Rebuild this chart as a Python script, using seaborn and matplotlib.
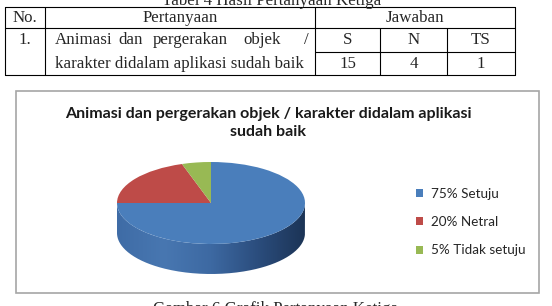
import numpy as np
import matplotlib
matplotlib.use("Agg")
import matplotlib.pyplot as plt
import seaborn as sns
from matplotlib.patches import Rectangle, PathPatch
from matplotlib.path import Path
from matplotlib.colors import LinearSegmentedColormap

# ---- data ----
categories = ["Setuju", "Netral", "Tidak setuju"]
values = [75, 20, 5]
legend_labels = ["75% Setuju", "20% Netral", "5% Tidak setuju"]
table_head = ["No.", "Pertanyaan", "Jawaban"]
answer_cols = ["S", "N", "TS"]
answer_vals = [15, 4, 1]
question = "Animasi dan pergerakan objek / karakter didalam aplikasi sudah baik"
chart_title = "Animasi dan pergerakan objek / karakter didalam aplikasi\nsudah baik"
table_caption = "Tabel 4 Hasil Pertanyaan Ketiga"
figure_caption = "Gambar 6 Grafik Pertanyaan Ketiga"

sns.set_theme(style="white")
plt.rcParams["font.family"] = ["Liberation Serif", "DejaVu Serif"]
colors = ["#4a7ebb", "#be4b48", "#98b954"]

W, H = 552, 306
fig = plt.figure(figsize=(W / 100, H / 100), dpi=100)
fig.patch.set_facecolor("white")


def fx(x):
    return x / W


def fy(y):
    return 1 - y / H


serif = ["Liberation Serif", "DejaVu Serif"]
sans = ["Lato", "DejaVu Sans"]

# ---- table ----
fs_t = 12.2
fig.text(fx(272), fy(1), table_caption, ha="center", va="center", fontsize=fs_t, family=serif)
lw = 0.8
tl, tr = 5, 515
c_no, c_q, c_s, c_n = 45, 315, 380, 447
r0, r1, r2, r3 = 7, 28, 52, 75
line = dict(color="black", lw=lw, transform=fig.transFigure)


def hline(x0, x1, y):
    fig.add_artist(plt.Line2D([fx(x0), fx(x1)], [fy(y), fy(y)], **line))


def vline(x, y0, y1):
    fig.add_artist(plt.Line2D([fx(x), fx(x)], [fy(y0), fy(y1)], **line))


hline(tl, tr, r0)
hline(tl, tr, r1)
hline(c_q, tr, r2)
hline(tl, tr, r3)
for x in [tl, c_no, c_q, tr]:
    vline(x, r0, r3)
for x in [c_s, c_n]:
    vline(x, r1, r3)

fig.text(fx((tl + c_no) / 2), fy((r0 + r1) / 2), table_head[0], ha="center", va="center", fontsize=fs_t, family=serif)
fig.text(fx((c_no + c_q) / 2), fy((r0 + r1) / 2), table_head[1], ha="center", va="center", fontsize=fs_t, family=serif)
fig.text(fx((c_q + tr) / 2), fy((r0 + r1) / 2), table_head[2], ha="center", va="center", fontsize=fs_t, family=serif)
fig.text(fx(25), fy((r1 + r2) / 2), "1.", ha="center", va="center", fontsize=fs_t, family=serif)

words = question.split()
line1 = words[:5]
line2 = " ".join(words[5:])
word_x = [55, 118, 153, 243, 304]
for w, x in zip(line1, word_x):
    fig.text(fx(x), fy((r1 + r2) / 2), w, ha="left", va="center", fontsize=fs_t, family=serif)
fig.text(fx(55), fy((r2 + r3) / 2), line2, ha="left", va="center", fontsize=fs_t, family=serif)

cols_x = [c_q, c_s, c_n, tr]
for i, (lab, v) in enumerate(zip(answer_cols, answer_vals)):
    xc = (cols_x[i] + cols_x[i + 1]) / 2
    fig.text(fx(xc), fy((r1 + r2) / 2), lab, ha="center", va="center", fontsize=fs_t, family=serif)
    fig.text(fx(xc), fy((r2 + r3) / 2), str(v), ha="center", va="center", fontsize=fs_t, family=serif)

# ---- chart box ----
fig.add_artist(Rectangle((fx(16), fy(293)), fx(539) - fx(16), fy(91) - fy(293),
                         transform=fig.transFigure, fill=False, edgecolor="#a6a6a6", lw=1.2))
fig.text(fx(268), fy(123), chart_title, ha="center", va="center", fontsize=11.5,
         fontweight="bold", family=sans, linespacing=1.45, color="#1a1a1a")
fig.text(fx(276), fy(309), figure_caption, ha="center", va="center", fontsize=fs_t, family=serif)

# ---- 3D-ish pie ----
cx, cy, rx, ry, depth = 211, 203, 94, 41, 30
d = depth / ry
ax = fig.add_axes([fx(cx - rx), fy(cy + ry + depth), 2 * rx / W, (2 * ry + depth) / H])
ax.set_axis_off()

# side of the cylinder
t = np.linspace(np.pi, 2 * np.pi, 200)
xs = np.concatenate([np.cos(t), np.cos(t[::-1])])
ys = np.concatenate([np.sin(t), np.sin(t[::-1]) - d])
side_path = Path(np.column_stack([xs, ys]))
side_patch = PathPatch(side_path, facecolor="none", edgecolor="none")
ax.add_patch(side_patch)
cmap = LinearSegmentedColormap.from_list("side", ["#3f6ca6", "#4877b1", "#3d69a2", "#2b4d7d", "#1c3456"])
grad = np.linspace(0, 1, 256).reshape(1, -1)
im = ax.imshow(grad, extent=[-1, 1, -1 - d, 0], cmap=cmap, aspect="auto", zorder=1)
im.set_clip_path(side_patch)

wedges, _ = ax.pie(values, colors=colors, startangle=90, counterclock=False,
                   wedgeprops=dict(linewidth=0, edgecolor="none"))
for w_ in wedges:
    w_.set_zorder(2)
ax.set_aspect("auto")
ax.set_xlim(-1, 1)
ax.set_ylim(-1 - d, 1)

fig.legend(wedges, legend_labels, loc="upper left", bbox_to_anchor=(fx(416), fy(188)),
           frameon=False, handlelength=0.55, handleheight=0.55, handletextpad=0.55,
           labelspacing=1.2, borderaxespad=0, borderpad=0,
           prop=dict(family=sans, size=9.7))

fig.savefig("out.png", dpi=100, facecolor="white")
